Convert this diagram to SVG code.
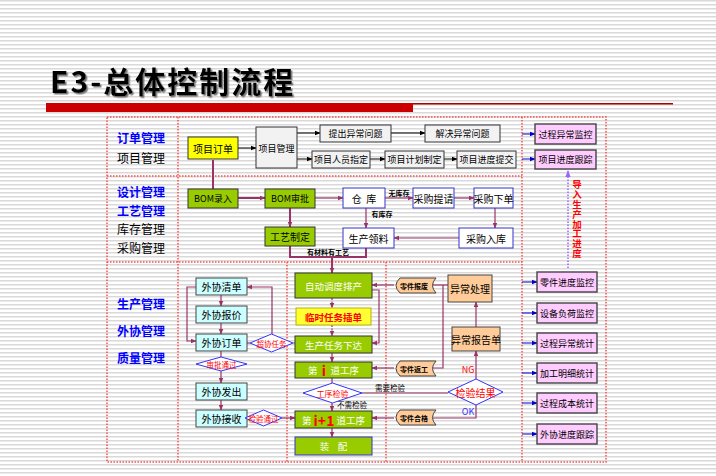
<svg xmlns="http://www.w3.org/2000/svg" width="716" height="476" viewBox="0 0 716 476">
<defs>
<pattern id="stripes" width="8" height="4" patternUnits="userSpaceOnUse">
<rect width="8" height="1.5" fill="#d9d9d9"/>
</pattern>
<marker id="am" viewBox="0 0 10 10" refX="9" refY="5" markerWidth="6" markerHeight="6" markerUnits="userSpaceOnUse" orient="auto"><path d="M0,1 L10,5 L0,9 z" fill="#993366"/></marker>
<marker id="ak" viewBox="0 0 10 10" refX="9" refY="5" markerWidth="6" markerHeight="6" markerUnits="userSpaceOnUse" orient="auto"><path d="M0,1 L10,5 L0,9 z" fill="#000"/></marker>
<marker id="ab" viewBox="0 0 10 10" refX="9" refY="5" markerWidth="6" markerHeight="6" markerUnits="userSpaceOnUse" orient="auto"><path d="M0,1 L10,5 L0,9 z" fill="#0000cc"/></marker>
<marker id="ap" viewBox="0 0 10 10" refX="9" refY="5" markerWidth="7" markerHeight="7" markerUnits="userSpaceOnUse" orient="auto"><path d="M0,1 L10,5 L0,9 z" fill="#9966ff"/></marker>
<filter id="sh" x="-5%" y="-5%" width="110%" height="120%"><feDropShadow dx="1.5" dy="1.5" stdDeviation="0.7" flood-color="#777"/></filter>
</defs>
<style>
text{font-family:"Noto Sans CJK SC","Noto Sans",sans-serif;text-anchor:middle;dominant-baseline:central;fill:#000}
.lm{stroke:#993366;stroke-width:1.2;fill:none}
.lm2{stroke:#993366;stroke-width:2;fill:none}
.lk{stroke:#000;stroke-width:1;fill:none}
.lb{stroke:#0000cc;stroke-width:1;fill:none}
.dv{stroke:#ff4d4d;stroke-width:1.5;stroke-dasharray:1.5 1.5;fill:none}
.g{fill:#f2f2f2;stroke:#333}
.y{fill:#ffff00;stroke:#333}
.gr{fill:#99cc00;stroke:#333}
.wb{fill:#fff;stroke:#3333cc}
.cy{fill:#ccffff;stroke:#444}
.or{fill:#ffcc99;stroke:#444}
.pk{fill:#ffccff;stroke:#444;stroke-width:1.4}
.dia{fill:#fff;stroke:#3333ff}
.t9{font-size:9px}
.t10{font-size:10px}
.tw{font-size:9.5px;fill:#fff}
.ts{font-size:7px;font-weight:bold}
.tr{font-size:8px;fill:#ff0000}
.lab{font-size:12px}
.lbl{font-size:12px;fill:#0000ff;font-weight:bold}
</style>
<rect width="716" height="476" fill="#fff"/>
<rect width="716" height="476" fill="url(#stripes)"/>
<g id="title">
<text x="50" y="80" style="font-size:30px;font-weight:bold;text-anchor:start;letter-spacing:2px" filter="url(#sh)">E3-总体控制流程</text>
<rect x="46" y="103" width="367" height="9" fill="#cc0000"/>
<rect x="413" y="103" width="260" height="1.5" fill="#aa0000"/>
</g>
<g id="frame">
<rect x="107" y="117" width="499" height="345" fill="#fff" class="dv"/>
<line x1="107" y1="176" x2="522" y2="176" class="dv"/>
<line x1="107" y1="262" x2="522" y2="262" class="dv"/>
<line x1="178" y1="117" x2="178" y2="462" class="dv"/>
<line x1="522" y1="117" x2="522" y2="462" class="dv"/>
<line x1="287" y1="262" x2="287" y2="462" class="dv"/>
<line x1="386" y1="262" x2="386" y2="462" class="dv"/>
</g>
<g id="labels">
<text x="141" y="137" class="lbl">订单管理</text>
<text x="141" y="157" class="lab">项目管理</text>
<text x="141" y="191" class="lbl">设计管理</text>
<text x="141" y="210" class="lbl">工艺管理</text>
<text x="141" y="228" class="lab">库存管理</text>
<text x="141" y="247" class="lab">采购管理</text>
<text x="141" y="303" class="lbl">生产管理</text>
<text x="141" y="330" class="lbl">外协管理</text>
<text x="141" y="357" class="lbl">质量管理</text>
</g>
<g id="connectors">
<line x1="238" y1="148" x2="256" y2="148" class="lk" marker-end="url(#ak)"/>
<line x1="297" y1="133" x2="320" y2="133" class="lk" marker-end="url(#ak)"/>
<line x1="391" y1="133" x2="425" y2="133" class="lk" marker-end="url(#ak)"/>
<line x1="297" y1="159" x2="312" y2="159" class="lk" marker-end="url(#ak)"/>
<line x1="370" y1="159" x2="385" y2="159" class="lk" marker-end="url(#ak)"/>
<line x1="444" y1="159" x2="457" y2="159" class="lk" marker-end="url(#ak)"/>
<line x1="213" y1="160" x2="213" y2="189" class="lm2"/>
<line x1="238" y1="198" x2="265" y2="198" class="lm2" marker-end="url(#am)"/>
<line x1="290" y1="208" x2="290" y2="227" class="lm2" marker-end="url(#am)"/>
<line x1="315" y1="198" x2="343" y2="198" class="lm" marker-end="url(#am)"/>
<line x1="385" y1="198" x2="413" y2="198" class="lm" marker-end="url(#am)"/>
<line x1="454" y1="198" x2="474" y2="198" class="lm" marker-end="url(#am)"/>
<line x1="495" y1="208" x2="495" y2="228" class="lm" marker-end="url(#am)"/>
<line x1="459" y1="238" x2="394" y2="238" class="lm" marker-end="url(#am)"/>
<line x1="366" y1="208" x2="366" y2="228" class="lm" marker-end="url(#am)"/>
<polyline points="290,246 290,257 366,257 366,248" class="lm2"/>
<line x1="332" y1="257" x2="332" y2="273" class="lm2" marker-end="url(#am)"/>
<line x1="221" y1="295" x2="221" y2="306" class="lm" marker-end="url(#am)"/>
<line x1="221" y1="323" x2="221" y2="334" class="lm" marker-end="url(#am)"/>
<line x1="221" y1="351" x2="221" y2="357" class="lm"/>
<line x1="221" y1="371" x2="221" y2="383" class="lm" marker-end="url(#am)"/>
<line x1="221" y1="400" x2="221" y2="410" class="lm" marker-end="url(#am)"/>
<polyline points="196,287 187,287 187,341 196,341" class="lm" marker-end="url(#am)"/>
<polyline points="272,335 272,287 247,287" class="lm" marker-end="url(#am)"/>
<line x1="247" y1="343" x2="250" y2="343" class="lm"/>
<line x1="293" y1="343" x2="295" y2="343" class="lm"/>
<line x1="282" y1="418" x2="295" y2="418" class="lm" marker-end="url(#am)"/>
<line x1="332" y1="298" x2="332" y2="308" class="lm" stroke-dasharray="2 1.5" marker-end="url(#am)"/>
<line x1="332" y1="325" x2="332" y2="336" class="lm" stroke-dasharray="2 1.5" marker-end="url(#am)"/>
<polyline points="372,290 379,290 379,343 372,343" class="lm" marker-end="url(#am)"/>
<line x1="332" y1="353" x2="332" y2="362" class="lm" marker-end="url(#am)"/>
<line x1="332" y1="378" x2="332" y2="383" class="lm"/>
<line x1="332" y1="403" x2="332" y2="411" class="lm" marker-end="url(#am)"/>
<line x1="332" y1="428" x2="332" y2="437" class="lm" marker-end="url(#am)"/>
<line x1="362" y1="393" x2="448" y2="393" class="lm"/>
<line x1="394" y1="285" x2="372" y2="285" class="lm" marker-end="url(#am)"/>
<line x1="394" y1="368" x2="372" y2="368" class="lm" marker-end="url(#am)"/>
<line x1="394" y1="418" x2="372" y2="418" class="lm" marker-end="url(#am)"/>
<line x1="432" y1="285" x2="448" y2="285" class="lm"/>
<polyline points="432,368 443,368 443,285" class="lm"/>
<line x1="476" y1="327" x2="476" y2="302" class="lm" marker-end="url(#am)"/>
<line x1="476" y1="379" x2="476" y2="351" class="lm" marker-end="url(#am)"/>
<polyline points="476,405 476,418 432,418" class="lm"/>
<line x1="522" y1="134" x2="535" y2="134" class="lb" marker-end="url(#ab)"/>
<line x1="522" y1="159" x2="535" y2="159" class="lb" marker-end="url(#ab)"/>
<line x1="522" y1="282" x2="537" y2="282" class="lb" marker-end="url(#ab)"/>
<line x1="522" y1="313" x2="537" y2="313" class="lb" marker-end="url(#ab)"/>
<line x1="522" y1="343" x2="537" y2="343" class="lb" marker-end="url(#ab)"/>
<line x1="522" y1="373" x2="537" y2="373" class="lb" marker-end="url(#ab)"/>
<line x1="522" y1="403" x2="537" y2="403" class="lb" marker-end="url(#ab)"/>
<line x1="522" y1="434" x2="537" y2="434" class="lb" marker-end="url(#ab)"/>
<line x1="568" y1="268" x2="568" y2="171" stroke="#9966ff" stroke-width="1.5" stroke-dasharray="1.5 1.5" marker-end="url(#ap)"/>
<text x="399" y="193" class="ts">无库存</text>
<text x="382" y="214" class="ts">有库存</text>
<text x="328" y="252" class="ts">有材料有工艺</text>
<text x="390" y="387" class="ts" style="font-weight:normal;font-size:7.5px">需要检验</text>
<text x="352" y="404" class="ts" style="font-weight:normal;font-size:7.5px">不需检验</text>
<text x="468" y="369" style="font-size:9px;fill:#ff0000">NG</text>
<text x="468" y="411" style="font-size:9px;fill:#3333ff">OK</text>
<text x="577" y="180" style="writing-mode:vertical-rl;text-anchor:start;font-size:9.5px;letter-spacing:0.3px;font-weight:bold;fill:#ff0000">导入生产加工进度</text>
</g>
<g id="n-xmdd"><rect x="188" y="137" width="50" height="22" class="y"/><text x="213" y="148" class="t10">项目订单</text></g>
<g id="n-xmgl"><rect x="256" y="127" width="41" height="41" class="g"/><text x="276.5" y="148" style="font-size:9px">项目管理</text></g>
<g id="n-tcyc"><rect x="320" y="125" width="71" height="17" class="g"/><text x="355.5" y="133.5" class="t9">提出异常问题</text></g>
<g id="n-jjyc"><rect x="425" y="125" width="75" height="17" class="g"/><text x="462.5" y="133.5" class="t9">解决异常问题</text></g>
<g id="n-ryzd"><rect x="312" y="151" width="58" height="17" class="g"/><text x="341" y="159.5" class="t9">项目人员指定</text></g>
<g id="n-jhzd"><rect x="385" y="151" width="59" height="17" class="g"/><text x="414.5" y="159.5" class="t9">项目计划制定</text></g>
<g id="n-jdtj"><rect x="457" y="151" width="59" height="17" class="g"/><text x="486.5" y="159.5" class="t9">项目进度提交</text></g>
<g id="n-bomlr"><rect x="188" y="189" width="50" height="19" class="gr"/><text x="213" y="198.5" class="t9">BOM录入</text></g>
<g id="n-bomsp"><rect x="265" y="189" width="50" height="19" class="gr"/><text x="290" y="198.5" class="t9">BOM审批</text></g>
<g id="n-gyzd"><rect x="265" y="227" width="50" height="19" class="gr"/><text x="290" y="236.5" class="t10">工艺制定</text></g>
<g id="n-ck"><rect x="343" y="188" width="42" height="20" class="wb"/><text x="364" y="198" class="t10" xml:space="preserve">仓  库</text></g>
<g id="n-cgtq"><rect x="413" y="188" width="41" height="20" class="wb"/><text x="433.5" y="198" class="t10">采购提请</text></g>
<g id="n-cgxd"><rect x="474" y="188" width="39" height="20" class="wb"/><text x="493.5" y="198" class="t10">采购下单</text></g>
<g id="n-cgrk"><rect x="459" y="228" width="54" height="20" class="wb"/><text x="486" y="238" class="t10">采购入库</text></g>
<g id="n-scll"><rect x="343" y="228" width="51" height="20" class="wb"/><text x="368.5" y="238" class="t10">生产领料</text></g>
<g id="n-wxqd"><rect x="196" y="278" width="51" height="17" class="cy"/><text x="221.5" y="286.5" class="t10">外协清单</text></g>
<g id="n-wxbj"><rect x="196" y="306" width="51" height="17" class="cy"/><text x="221.5" y="314.5" class="t10">外协报价</text></g>
<g id="n-wxdd"><rect x="196" y="334" width="51" height="17" class="cy"/><text x="221.5" y="342.5" class="t10">外协订单</text></g>
<g id="n-sptg"><polygon points="196,364 221,357 247,364 221,371" class="dia"/><text x="221.5" y="364" class="tr" style="font-size:7.5px">审批通过</text></g>
<g id="n-wxfc"><rect x="196" y="383" width="51" height="17" class="cy"/><text x="221.5" y="391.5" class="t10">外协发出</text></g>
<g id="n-wxjs"><rect x="196" y="410" width="51" height="17" class="cy"/><text x="221.5" y="418.5" class="t10">外协接收</text></g>
<g id="n-jytg"><polygon points="245,418 263.5,410 282,418 263.5,426" class="dia"/><text x="263.5" y="418" class="tr" style="font-size:7.5px">检验通过</text></g>
<g id="n-cxrw"><polygon points="250,343 271.5,334 293,343 271.5,352" class="dia"/><text x="271.5" y="343" class="tr" style="font-size:7.5px">超协任务</text></g>
<g id="n-zdpc"><rect x="295" y="273" width="77" height="25" class="gr"/><text x="333.5" y="285.5" class="tw">自动调度排产</text></g>
<g id="n-lscd"><rect x="296" y="308" width="75" height="17" fill="#ffff33" stroke="#b3b300"/><text x="333.5" y="316.5" style="font-size:9.5px;fill:#ff0000;font-weight:bold">临时任务插单</text></g>
<g id="n-scrw"><rect x="295" y="336" width="77" height="17" class="gr"/><text x="333.5" y="344.5" class="tw">生产任务下达</text></g>
<g id="n-gx1"><rect x="295" y="362" width="77" height="16" class="gr"/><text x="333.5" y="370" class="tw" xml:space="preserve">第  <tspan style="font-size:14px;fill:#ff0000;font-weight:bold">i</tspan>  道工序</text></g>
<g id="n-gxjy"><polygon points="303,393 332.5,383 362,393 332.5,403" class="dia"/><text x="332.5" y="393" class="tr">工序检验</text></g>
<g id="n-gx2"><rect x="295" y="411" width="77" height="17" class="gr"/><text x="333.5" y="419.5" class="tw" xml:space="preserve">第 <tspan style="font-size:14px;fill:#ff0000;font-weight:bold">i+1</tspan> 道工序</text></g>
<g id="n-zp"><rect x="295" y="437" width="77" height="18" fill="#99cc00" stroke="#3333cc"/><text x="333.5" y="446" class="tw" xml:space="preserve">装    配</text></g>
<g id="n-ljbf"><path d="M400,278 H436 Q429,285.5 436,293 H400 Q392,285.5 400,278 Z" class="or"/><text x="414" y="285.5" class="ts">零件报废</text></g>
<g id="n-ljfg"><path d="M400,361 H436 Q429,368.5 436,376 H400 Q392,368.5 400,361 Z" class="or"/><text x="414" y="368.5" class="ts">零件返工</text></g>
<g id="n-ljhg"><path d="M400,410 H436 Q429,417.5 436,425 H400 Q392,417.5 400,410 Z" class="or"/><text x="414" y="417.5" class="ts">零件合格</text></g>
<g id="n-yccl"><rect x="448" y="275" width="44" height="27" class="or"/><text x="470" y="288.5" class="t10">异常处理</text></g>
<g id="n-ycbg"><rect x="452" y="327" width="48" height="24" class="or"/><text x="476" y="339" class="t10">异常报告单</text></g>
<g id="n-jyjg"><polygon points="448,392 476,379 503,392 476,405" class="dia"/><text x="475.5" y="392" style="font-size:10px;fill:#ff0000">检验结果</text></g>
<g id="n-r1"><rect x="535" y="124" width="61" height="20" class="pk"/><text x="565.5" y="134" class="t9">过程异常监控</text></g>
<g id="n-r2"><rect x="535" y="150" width="61" height="19" class="pk"/><text x="565.5" y="159.5" class="t9">项目进度跟踪</text></g>
<g id="n-r3"><rect x="537" y="272" width="60" height="20" class="pk"/><text x="567" y="282" class="t9">零件进度监控</text></g>
<g id="n-r4"><rect x="537" y="303" width="60" height="20" class="pk"/><text x="567" y="313" class="t9">设备负荷监控</text></g>
<g id="n-r5"><rect x="537" y="333" width="60" height="20" class="pk"/><text x="567" y="343" class="t9">过程异常统计</text></g>
<g id="n-r6"><rect x="537" y="363" width="60" height="20" class="pk"/><text x="567" y="373" class="t9">加工明细统计</text></g>
<g id="n-r7"><rect x="537" y="393" width="60" height="20" class="pk"/><text x="567" y="403" class="t9">过程成本统计</text></g>
<g id="n-r8"><rect x="537" y="424" width="60" height="20" class="pk"/><text x="567" y="434" class="t9">外协进度跟踪</text></g>
</svg>
